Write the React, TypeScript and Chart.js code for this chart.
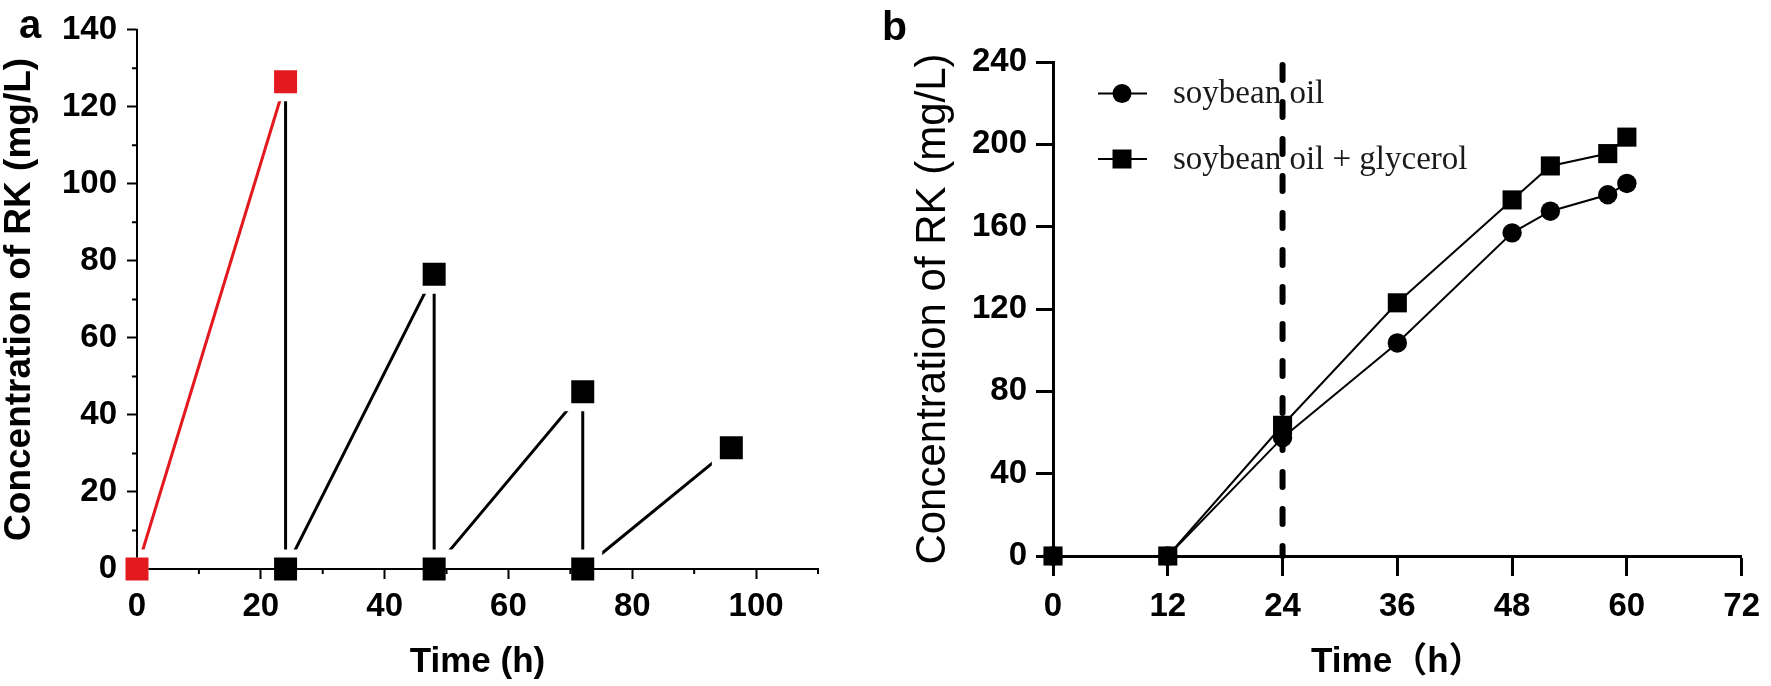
import React, { useEffect, useRef } from 'react';
import { Chart, registerables } from 'chart.js';

Chart.register(...registerables);

// ---------- Panel a data ----------
const timeA_red = [0, 24];
const concA_red = [0, 126.5];
const timeA_black = [24, 24, 48, 48, 72, 72, 96];
const concA_black = [126.5, 0, 76.5, 0, 46, 0, 31.5];
const minorXA = [10, 30, 50, 70, 90, 110];
const minorYA = [10, 30, 50, 70, 90, 110, 130];

// ---------- Panel b data ----------
const timeB = [0, 12, 24, 36, 48, 52, 58, 60];
const soybeanOil = [0, 0, 57.5, 103.5, 157, 167.5, 175.5, 181];
const soybeanOilGlycerol = [0, 0, 63.5, 123, 173, 189.5, 195.5, 203.5];
const dashTime = [24, 24];
const dashConc = [240, 0];
const legendLabels = ['soybean oil', 'soybean oil + glycerol'];

const SANS = "'Liberation Sans', Arial, 'Noto Sans CJK SC', sans-serif";
const SERIF = "'Liberation Serif', 'Times New Roman', serif";
const RED = '#e2191f';

// marker: visible side ~23px, white ring (gap) of ~4px around it
const MARK_A_RING = 8;
const MARK_A_R = (23 + MARK_A_RING) / Math.SQRT2;

const pts = (xs: number[], ys: number[]) => xs.map((x, i) => ({ x, y: ys[i] }));

const panelAPlugin = {
  id: 'panelA',
  afterDatasetsDraw(chart: any) {
    // restore the axis lines that the marker gaps cut through
    const { ctx, chartArea, scales } = chart;
    const half = 11.5;
    const x0 = scales.x.getPixelForValue(0);
    const y0 = scales.y.getPixelForValue(0);
    ctx.save();
    ctx.strokeStyle = '#000';
    ctx.lineWidth = 2;
    ctx.beginPath();
    ctx.moveTo(x0 + half, chartArea.bottom);
    ctx.lineTo(chartArea.right + 1, chartArea.bottom);
    ctx.moveTo(chartArea.left, chartArea.top - 1);
    ctx.lineTo(chartArea.left, y0 - half);
    ctx.stroke();
    ctx.restore();
  },
  afterDraw(chart: any) {
    const { ctx, chartArea, scales } = chart;
    ctx.save();
    ctx.strokeStyle = '#000';
    ctx.lineWidth = 2;
    ctx.beginPath();
    minorXA.forEach((v) => {
      const x = scales.x.getPixelForValue(v);
      ctx.moveTo(x, chartArea.bottom);
      ctx.lineTo(x, chartArea.bottom + 5);
    });
    minorYA.forEach((v) => {
      const y = scales.y.getPixelForValue(v);
      ctx.moveTo(chartArea.left, y);
      ctx.lineTo(chartArea.left - 5, y);
    });
    ctx.stroke();
    ctx.fillStyle = '#000';
    ctx.font = `bold 40px ${SANS}`;
    ctx.textBaseline = 'alphabetic';
    ctx.textAlign = 'left';
    ctx.fillText('a', 19, 38);
    ctx.restore();
  },
};

const panelBPlugin = {
  id: 'panelB',
  afterDraw(chart: any) {
    const { ctx } = chart;
    ctx.save();
    ctx.fillStyle = '#000';
    ctx.font = `bold 41px ${SANS}`;
    ctx.textBaseline = 'alphabetic';
    ctx.textAlign = 'left';
    ctx.fillText('b', 2, 40);

    const rows = [
      { y: 93.5, base: 103, style: 'circle' },
      { y: 159, base: 169, style: 'rect' },
    ];
    rows.forEach((r, i) => {
      ctx.strokeStyle = '#000';
      ctx.lineWidth = 2;
      ctx.beginPath();
      ctx.moveTo(218, r.y);
      ctx.lineTo(267, r.y);
      ctx.stroke();
      ctx.fillStyle = '#000';
      ctx.beginPath();
      if (r.style === 'circle') {
        ctx.arc(242, r.y, 9.5, 0, Math.PI * 2);
      } else {
        ctx.rect(242 - 9.5, r.y - 9.5, 19, 19);
      }
      ctx.fill();
      ctx.fillStyle = '#1a1a1a';
      ctx.font = `33px ${SERIF}`;
      ctx.fillText(legendLabels[i], 293, r.base);
    });
    ctx.restore();
  },
};

export default function App() {
  const refA = useRef<HTMLCanvasElement>(null);
  const refB = useRef<HTMLCanvasElement>(null);

  useEffect(() => {
    document.body.style.margin = '0';
    const tickFont = { family: SANS, size: 33, weight: 'bold' as const };

    const chartA = new Chart(refA.current!, {
      type: 'scatter',
      data: {
        datasets: [
          {
            data: pts(timeA_red, concA_red),
            showLine: true,
            borderColor: RED,
            backgroundColor: RED,
            pointBorderColor: '#fff',
            borderWidth: 3,
            pointStyle: 'rect',
            pointRadius: MARK_A_R,
            pointBorderWidth: MARK_A_RING,
            clip: false,
          } as any,
          {
            data: pts(timeA_black, concA_black),
            showLine: true,
            borderColor: '#000',
            backgroundColor: '#000',
            pointBorderColor: '#fff',
            borderWidth: 3,
            pointStyle: 'rect',
            pointRadius: (c: any) => (c.dataIndex === 0 ? 0 : MARK_A_R),
            pointBorderWidth: (c: any) => (c.dataIndex === 0 ? 0 : MARK_A_RING),
            clip: false,
          } as any,
        ],
      },
      options: {
        animation: false,
        responsive: false,
        devicePixelRatio: 1,
        layout: { autoPadding: false, padding: { left: 0, top: 20, right: 62, bottom: 0 } },
        plugins: { legend: { display: false }, tooltip: { enabled: false } },
        scales: {
          x: {
            type: 'linear',
            min: 0,
            max: 110,
            ticks: { stepSize: 20, includeBounds: false, font: tickFont, color: '#000', padding: 8, maxRotation: 0 },
            grid: { drawOnChartArea: false, tickLength: 10, tickWidth: 2, tickColor: '#000' },
            border: { color: '#000', width: 2 },
            title: {
              display: true,
              text: 'Time (h)',
              color: '#000',
              font: { family: SANS, size: 35, weight: 'bold', lineHeight: 1 },
              padding: { top: 0, bottom: 6.5 },
            },
            afterFit: (s: any) => {
              s.height = 117;
            },
          },
          y: {
            type: 'linear',
            min: 0,
            max: 140,
            ticks: { stepSize: 20, includeBounds: false, font: tickFont, color: '#000', padding: 10 },
            grid: { drawOnChartArea: false, tickLength: 10, tickWidth: 2, tickColor: '#000' },
            border: { color: '#000', width: 2 },
            title: {
              display: true,
              text: 'Concentration of RK (mg/L)',
              color: '#000',
              font: { family: SANS, size: 37, weight: 'bold', lineHeight: 1 },
              padding: { top: 1, bottom: 0 },
            },
            afterFit: (s: any) => {
              s.width = 137;
            },
          },
        },
      } as any,
      plugins: [panelAPlugin],
    });

    const chartB = new Chart(refB.current!, {
      type: 'scatter',
      data: {
        datasets: [
          {
            data: pts(timeB, soybeanOilGlycerol),
            showLine: true,
            borderColor: '#000',
            backgroundColor: '#000',
            borderWidth: 2,
            pointStyle: 'rect',
            pointRadius: 13.5,
            pointBorderWidth: 0,
            clip: false,
          } as any,
          {
            data: pts(timeB, soybeanOil),
            showLine: true,
            borderColor: '#000',
            backgroundColor: '#000',
            borderWidth: 2,
            pointStyle: 'circle',
            pointRadius: 9.7,
            pointBorderWidth: 0,
            clip: false,
          } as any,
          {
            data: pts(dashTime, dashConc),
            showLine: true,
            borderColor: '#000',
            borderWidth: 6,
            borderDash: [15, 22],
            borderDashOffset: -3,
            borderCapStyle: 'round',
            pointRadius: 0,
            clip: false,
          } as any,
        ],
      },
      options: {
        animation: false,
        responsive: false,
        devicePixelRatio: 1,
        layout: { autoPadding: false, padding: { left: 0, top: 62, right: 20, bottom: 0 } },
        plugins: { legend: { display: false }, tooltip: { enabled: false } },
        scales: {
          x: {
            type: 'linear',
            min: 0,
            max: 72,
            ticks: { stepSize: 12, font: tickFont, color: '#000', padding: 11, maxRotation: 0 },
            grid: { drawOnChartArea: false, tickLength: 20, tickWidth: 3, tickColor: '#000' },
            border: { color: '#000', width: 3 },
            title: {
              display: true,
              text: 'Time（h）',
              color: '#000',
              font: { family: SANS, size: 35, weight: 'bold', lineHeight: 1 },
              padding: { top: 0, bottom: 6 },
            },
            afterFit: (s: any) => {
              s.height = 130;
            },
          },
          y: {
            type: 'linear',
            min: 0,
            max: 240,
            ticks: { stepSize: 40, font: tickFont, color: '#000', padding: 9 },
            grid: { drawOnChartArea: false, tickLength: 17, tickWidth: 3, tickColor: '#000' },
            border: { color: '#000', width: 3 },
            title: {
              display: true,
              text: 'Concentration of RK (mg/L)',
              color: '#000',
              font: { family: SANS, size: 42, weight: 'normal', lineHeight: 1 },
              padding: { top: 32, bottom: 0 },
            },
            afterFit: (s: any) => {
              s.width = 173;
            },
          },
        },
      } as any,
      plugins: [panelBPlugin],
    });

    return () => {
      chartA.destroy();
      chartB.destroy();
    };
  }, []);

  return (
    <div style={{ position: 'absolute', left: 0, top: 0, width: 1771, height: 686, background: '#fff', overflow: 'hidden' }}>
      <canvas ref={refA} width={880} height={686} style={{ position: 'absolute', left: 0, top: 0, width: 880, height: 686 }} />
      <canvas ref={refB} width={891} height={686} style={{ position: 'absolute', left: 880, top: 0, width: 891, height: 686 }} />
    </div>
  );
}
